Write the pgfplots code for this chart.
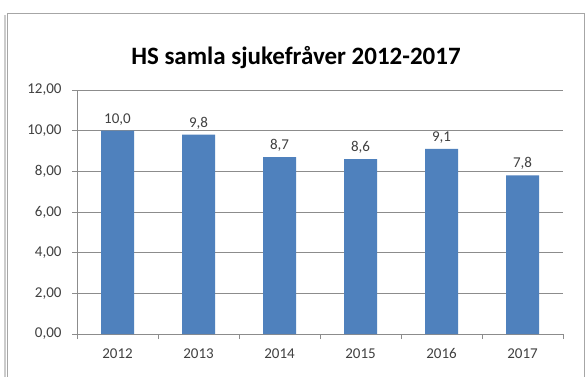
\documentclass[border=0pt]{standalone}
\usepackage{pgfplots}
\pgfplotsset{compat=1.18}
\usepackage{fontspec}
\setmainfont{Carlito}
\definecolor{barblue}{HTML}{4F81BD}
\definecolor{gridgray}{HTML}{8C8C8C}
\definecolor{txt}{HTML}{404040}
\begin{document}
\begin{tikzpicture}[x=1pt,y=1pt]
\useasboundingbox (0,0) rectangle (587,376);
\fill[white] (0,0) rectangle (587,376);
\draw[gray!40, line width=1.2pt] (5,-5) -- (5,361);
\draw[gray!70, line width=0.8pt] (7,-5) -- (7,363) -- (584,363) -- (584,-5);
\node[font=\bfseries\fontsize{25}{28}\selectfont, text=black] at (296,318) {HS samla sjukefråver 2012-2017};
\begin{axis}[
  at={(77pt,42pt)}, anchor=south west,
  scale only axis, width=486pt, height=244pt,
  xmin=-0.5, xmax=5.5, ymin=0, ymax=12,
  ytick={0,2,...,12},
  xtick={0,...,5},
  xticklabels={2012,2013,2014,2015,2016,2017},
  minor xtick={-0.5,0.5,...,5.5},
  axis x line*=bottom, axis y line*=left,
  axis line style={gridgray, line width=0.6pt},
  ymajorgrids, major grid style={gridgray, line width=0.6pt},
  major x tick style={draw=none},
  minor x tick style={gridgray, line width=0.6pt},
  minor tick length=5pt,
  major y tick style={gridgray, line width=0.6pt},
  major tick length=5pt,
  xtick align=outside, ytick align=outside,
  tick label style={font=\fontsize{15}{17}\selectfont, text=txt},
  /pgf/number format/assume math mode=true,
  yticklabel style={/pgf/number format/fixed, /pgf/number format/fixed zerofill, /pgf/number format/precision=2, /pgf/number format/use comma, xshift=-7pt},
  xticklabel style={yshift=-6pt, text height=10pt, text depth=0pt},
  ybar, bar width=33pt,
  nodes near coords,
  nodes near coords style={font=\fontsize{15}{17}\selectfont, text=txt, yshift=2pt, /pgf/number format/fixed, /pgf/number format/fixed zerofill, /pgf/number format/precision=1, /pgf/number format/use comma, /pgf/number format/assume math mode=true},
  clip=false,
]
\addplot[fill=barblue, draw=none] coordinates {(0,10.0) (1,9.8) (2,8.7) (3,8.6) (4,9.1) (5,7.8)};
\end{axis}
\end{tikzpicture}
\end{document}
